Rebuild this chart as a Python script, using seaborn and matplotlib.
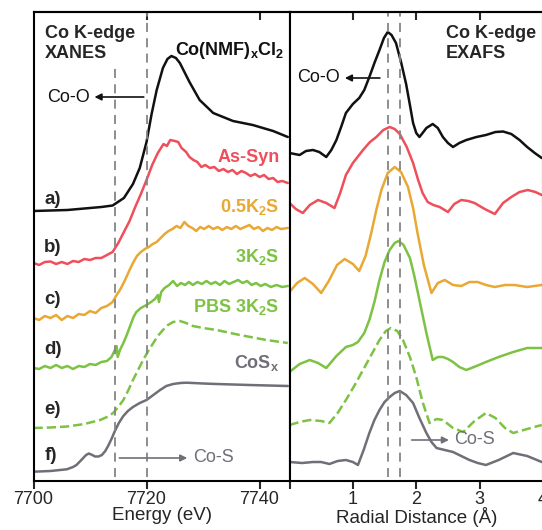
import numpy as np
import pandas as pd
import matplotlib
matplotlib.use("Agg")
import matplotlib.pyplot as plt
import seaborn as sns

sns.set_style("ticks")
plt.rcParams['font.family'] = ['Liberation Sans', 'DejaVu Sans']
plt.rcParams['mathtext.fontset'] = 'custom'
plt.rcParams['mathtext.rm'] = 'Liberation Sans'
plt.rcParams['mathtext.bf'] = 'Liberation Sans:bold'

# ---------------- XANES data (energy in eV, offset normalized intensity) ----------------
xan_a_e = [7700, 7706, 7712, 7714, 7716, 7717.6, 7718.8, 7720, 7720.9, 7721.8, 7722.9, 7723.7,
           7724.4, 7725.2, 7725.9, 7727.6, 7729.4, 7731.8, 7735.3, 7738.8, 7742.4, 7745]
xan_a_y = [2.70, 2.71, 2.74, 2.755, 2.83, 2.97, 3.13, 3.39, 3.67, 3.91, 4.13, 4.22,
           4.25, 4.23, 4.18, 3.99, 3.81, 3.68, 3.60, 3.56, 3.50, 3.44]

xan_b_e = [7700, 7701, 7702, 7703, 7704, 7705, 7706, 7707, 7708, 7709, 7710, 7711, 7712, 7713,
           7714, 7715, 7716, 7717, 7718, 7719, 7720, 7721, 7722, 7723, 7723.6, 7724.2, 7725,
           7725.6, 7726.2, 7727, 7727.6, 7728.3, 7729, 7729.7, 7730.4, 7731.2, 7732, 7732.8,
           7733.6, 7734.4, 7735.2, 7736, 7736.8, 7737.6, 7738.4, 7739.2, 7740, 7740.8, 7741.6,
           7742.4, 7743.2, 7744, 7745]
xan_b_y = [2.18, 2.16, 2.19, 2.195, 2.17, 2.19, 2.17, 2.20, 2.19, 2.22, 2.21, 2.23, 2.23, 2.26,
           2.29, 2.38, 2.49, 2.60, 2.74, 2.87, 3.01, 3.16, 3.28, 3.37, 3.35, 3.41, 3.40,
           3.39, 3.33, 3.29, 3.24, 3.21, 3.19, 3.14, 3.16, 3.13, 3.14, 3.10,
           3.12, 3.09, 3.11, 3.07, 3.10, 3.08, 3.05, 3.07, 3.04, 3.06, 3.02,
           3.03, 2.99, 3.00, 2.98]

xan_c_e = [7700, 7701, 7702, 7703, 7704, 7705, 7706, 7707, 7708, 7709, 7710, 7711, 7712, 7713,
           7714, 7714.6, 7715.4, 7716.2, 7717, 7717.6, 7718.3, 7719, 7719.7, 7720.4, 7721.1,
           7721.8, 7722.5, 7723.2, 7723.9, 7724.6, 7725.3, 7726, 7726.7, 7727.4, 7728.1, 7728.8,
           7729.5, 7730.2, 7731, 7731.8, 7732.6, 7733.4, 7734.2, 7735, 7735.8, 7736.6, 7737.4,
           7738.2, 7739, 7739.8, 7740.6, 7741.4, 7742.2, 7743, 7743.8, 7745]
xan_c_y = [1.63, 1.61, 1.65, 1.63, 1.66, 1.61, 1.65, 1.63, 1.67, 1.66, 1.70, 1.68, 1.73, 1.75,
           1.79, 1.85, 1.92, 2.01, 2.11, 2.18, 2.25, 2.29, 2.32, 2.34, 2.37,
           2.39, 2.43, 2.47, 2.50, 2.52, 2.55, 2.53, 2.59, 2.55, 2.53, 2.50,
           2.54, 2.52, 2.55, 2.52, 2.54, 2.51, 2.54, 2.52, 2.55, 2.52, 2.54,
           2.56, 2.52, 2.54, 2.50, 2.53, 2.51, 2.54, 2.52, 2.53]

xan_d_e = [7700, 7701, 7702, 7703, 7704, 7705, 7706, 7707, 7708, 7709, 7710, 7711, 7712, 7713,
           7713.8, 7714.4, 7714.7, 7714.9, 7715.3, 7715.9, 7716.5, 7717.1, 7717.7, 7718.2, 7719,
           7720, 7720.8, 7721.5, 7722, 7722.2, 7722.6, 7723.2, 7724, 7724.7, 7725.4, 7726.1,
           7726.8, 7727.5, 7728.2, 7729, 7729.8, 7730.6, 7731.4, 7732.2, 7733, 7733.8, 7734.6,
           7735.4, 7736.2, 7737, 7737.8, 7738.6, 7739.4, 7740.2, 7741, 7742, 7743, 7744, 7745]
xan_d_y = [1.13, 1.12, 1.15, 1.13, 1.16, 1.13, 1.15, 1.12, 1.15, 1.14, 1.17, 1.16, 1.19, 1.20,
           1.24, 1.31, 1.35, 1.24, 1.31, 1.38, 1.46, 1.55, 1.64, 1.69, 1.73,
           1.76, 1.79, 1.82, 1.86, 1.79, 1.89, 1.93, 1.96, 2.00, 1.95, 1.98,
           1.96, 1.99, 1.96, 1.99, 1.97, 2.00, 1.97, 1.99, 1.96, 2.00, 1.97,
           1.99, 2.01, 1.98, 2.00, 1.96, 1.98, 1.95, 1.97, 1.94, 1.96, 1.94, 1.95]

xan_e_e = [7700, 7703, 7706, 7709, 7711.8, 7713, 7714.1, 7715, 7715.9, 7716.8, 7717.6, 7718.5,
           7719.4, 7720.3, 7721.2, 7722, 7722.9, 7723.8, 7724.7, 7725.9, 7727, 7728.2, 7730,
           7732.4, 7736.5, 7741.2, 7745]
xan_e_y = [0.53, 0.535, 0.545, 0.57, 0.61, 0.64, 0.68, 0.74, 0.81, 0.91, 1.01, 1.11,
           1.21, 1.30, 1.38, 1.45, 1.51, 1.56, 1.59, 1.60, 1.58, 1.55, 1.53,
           1.51, 1.46, 1.41, 1.38]

xan_f_e = [7700, 7703, 7705.9, 7707, 7707.6, 7708.3, 7708.8, 7709.3, 7709.8, 7710.4, 7710.9,
           7711.5, 7712.1, 7712.7, 7713.2, 7713.8, 7714.4, 7715.1, 7715.9, 7716.7, 7717.6,
           7718.8, 7720, 7721.2, 7722.4, 7723.5, 7724.7, 7726, 7727.1, 7730, 7732.4, 7738.2, 7745]
xan_f_y = [0.093, 0.10, 0.117, 0.14, 0.16, 0.20, 0.23, 0.26, 0.275, 0.26, 0.245,
           0.245, 0.26, 0.30, 0.35, 0.42, 0.50, 0.58, 0.65, 0.70, 0.74,
           0.78, 0.81, 0.86, 0.91, 0.95, 0.97, 0.98, 0.983, 0.975, 0.97, 0.96, 0.95]

# ---------------- EXAFS data (radial distance in Angstrom, offset |FT|) ----------------
ex_a_r = [0.00, 0.08, 0.16, 0.26, 0.37, 0.47, 0.58, 0.66, 0.74, 0.82, 0.89, 1.00, 1.10, 1.18,
          1.26, 1.34, 1.42, 1.49, 1.55, 1.61, 1.68, 1.76, 1.84, 1.90, 1.95, 2.00, 2.05, 2.10,
          2.16, 2.26, 2.34, 2.42, 2.50, 2.58, 2.68, 2.79, 2.95, 3.10, 3.25, 3.37, 3.50, 3.63,
          3.75, 3.87, 3.98]
ex_a_y = [3.28, 3.27, 3.26, 3.30, 3.31, 3.29, 3.24, 3.31, 3.41, 3.55, 3.68, 3.77, 3.83, 3.91,
          4.04, 4.18, 4.31, 4.43, 4.49, 4.46, 4.38, 4.19, 3.97, 3.76, 3.58, 3.48, 3.44, 3.48,
          3.53, 3.57, 3.53, 3.44, 3.38, 3.34, 3.38, 3.41, 3.44, 3.46, 3.49, 3.495, 3.47, 3.41,
          3.34, 3.28, 3.23]

ex_b_r = [0.00, 0.10, 0.21, 0.32, 0.45, 0.58, 0.71, 0.80, 0.89, 1.00, 1.16, 1.27, 1.37, 1.48,
          1.58, 1.66, 1.74, 1.85, 1.95, 2.03, 2.10, 2.18, 2.27, 2.37, 2.50, 2.60, 2.71, 2.82,
          2.92, 3.08, 3.24, 3.37, 3.50, 3.63, 3.76, 3.88, 3.98]
ex_b_y = [2.78, 2.72, 2.68, 2.76, 2.81, 2.78, 2.73, 2.88, 3.06, 3.18, 3.31, 3.39, 3.44, 3.51,
          3.54, 3.52, 3.47, 3.34, 3.18, 3.01, 2.88, 2.79, 2.76, 2.74, 2.69, 2.77, 2.81, 2.80,
          2.78, 2.72, 2.67, 2.78, 2.84, 2.89, 2.91, 2.89, 2.86]

ex_c_r = [0.00, 0.12, 0.24, 0.37, 0.50, 0.62, 0.75, 0.87, 1.00, 1.10, 1.20, 1.29, 1.37, 1.45,
          1.55, 1.66, 1.76, 1.87, 1.95, 2.02, 2.12, 2.24, 2.34, 2.45, 2.58, 2.71, 2.84, 2.97,
          3.10, 3.24, 3.40, 3.55, 3.75, 3.98]
ex_c_y = [1.89, 1.98, 2.03, 1.97, 1.88, 2.00, 2.16, 2.22, 2.17, 2.10, 2.25, 2.48, 2.71, 2.91,
          3.08, 3.14, 3.09, 2.94, 2.73, 2.48, 2.16, 1.88, 1.98, 2.01, 1.96, 1.95, 1.99, 1.99,
          1.96, 1.94, 1.96, 1.96, 1.94, 1.96]

ex_d_r = [0.00, 0.16, 0.32, 0.45, 0.58, 0.74, 0.89, 1.00, 1.08, 1.18, 1.26, 1.34, 1.42, 1.50,
          1.58, 1.66, 1.72, 1.80, 1.90, 1.97, 2.05, 2.16, 2.26, 2.34, 2.42, 2.50, 2.58, 2.68,
          2.79, 2.95, 3.10, 3.30, 3.53, 3.75, 3.98]
ex_d_y = [1.09, 1.17, 1.21, 1.18, 1.13, 1.25, 1.34, 1.36, 1.39, 1.48, 1.61, 1.79, 2.01, 2.19,
          2.31, 2.38, 2.40, 2.36, 2.23, 2.05, 1.81, 1.48, 1.21, 1.24, 1.24, 1.22, 1.19, 1.14,
          1.11, 1.15, 1.19, 1.24, 1.29, 1.33, 1.33]

ex_e_r = [0.00, 0.16, 0.32, 0.50, 0.63, 0.76, 0.89, 1.03, 1.16, 1.29, 1.42, 1.52, 1.60, 1.70,
          1.79, 1.90, 2.00, 2.10, 2.21, 2.32, 2.42, 2.58, 2.74, 2.92, 3.10, 3.25, 3.40, 3.53,
          3.75, 3.98]
ex_e_y = [0.56, 0.59, 0.61, 0.60, 0.58, 0.68, 0.81, 0.96, 1.11, 1.26, 1.41, 1.50, 1.53, 1.50,
          1.41, 1.24, 1.04, 0.79, 0.58, 0.62, 0.61, 0.53, 0.49, 0.60, 0.68, 0.63, 0.53, 0.48,
          0.52, 0.56]

ex_f_r = [0.00, 0.20, 0.37, 0.50, 0.63, 0.76, 0.89, 1.00, 1.08, 1.17, 1.26, 1.34, 1.42, 1.50,
          1.58, 1.66, 1.74, 1.84, 1.95, 2.05, 2.16, 2.24, 2.32, 2.45, 2.58, 2.71, 2.84, 2.97,
          3.10, 3.30, 3.53, 3.75, 3.98]
ex_f_y = [0.19, 0.18, 0.19, 0.19, 0.17, 0.20, 0.21, 0.19, 0.16, 0.31, 0.48, 0.61, 0.71, 0.79,
          0.84, 0.88, 0.90, 0.86, 0.78, 0.63, 0.48, 0.39, 0.33, 0.31, 0.29, 0.25, 0.21, 0.18,
          0.16, 0.21, 0.28, 0.25, 0.19]

# ---------------- labels ----------------
sample_labels = [r"Co(NMF)$_\mathbf{x}$Cl$_\mathbf{2}$", "As-Syn", r"0.5K$_\mathbf{2}$S",
                 r"3K$_\mathbf{2}$S", r"PBS 3K$_\mathbf{2}$S", r"CoS$_\mathbf{x}$"]
letters = ["a)", "b)", "c)", "d)", "e)", "f)"]
xanes_ticks = [7700, 7720, 7740]
exafs_ticks = [1, 2, 3, 4]
xanes_marks = [7714.5, 7720]
exafs_marks = [1.55, 1.75]

BLACK = "#111111"
RED = "#ef4f5a"
ORANGE = "#e9a833"
GREEN = "#7dc243"
GRAY = "#6f6f78"
VGRAY = "#858585"

colors = [BLACK, RED, ORANGE, GREEN, GREEN, GRAY]
styles = ["-", "-", "-", "-", "--", "-"]

xanes = [(xan_a_e, xan_a_y), (xan_b_e, xan_b_y), (xan_c_e, xan_c_y),
         (xan_d_e, xan_d_y), (xan_e_e, xan_e_y), (xan_f_e, xan_f_y)]
exafs = [(ex_a_r, ex_a_y), (ex_b_r, ex_b_y), (ex_c_r, ex_c_y),
         (ex_d_r, ex_d_y), (ex_e_r, ex_e_y), (ex_f_r, ex_f_y)]

W, H = 542, 530
fig = plt.figure(figsize=(W / 100, H / 100), dpi=100)
ax1 = fig.add_axes([33.5 / W, 1 - 481 / H, (289.5 - 33.5) / W, 469 / H])
ax2 = fig.add_axes([289.5 / W, 1 - 481 / H, (543 - 289.5) / W, 469 / H])

LW = 1.8
for (x, y), c, ls in zip(xanes, colors, styles):
    df = pd.DataFrame({"x": x, "y": y})
    sns.lineplot(data=df, x="x", y="y", ax=ax1, color=c, lw=LW, linestyle=ls,
                 sort=False, estimator=None)
for (x, y), c, ls in zip(exafs, colors, styles):
    df = pd.DataFrame({"x": x, "y": y})
    sns.lineplot(data=df, x="x", y="y", ax=ax2, color=c, lw=LW, linestyle=ls,
                 sort=False, estimator=None)

YMAX = 4.69
for ax in (ax1, ax2):
    ax.set_ylim(0, YMAX)
    ax.set_yticks([])
    ax.set_ylabel("")
    for s in ax.spines.values():
        s.set_visible(True)
        s.set_linewidth(1.5)
        s.set_color("black")
    ax.tick_params(axis="x", which="both", direction="out", length=6, width=1.5,
                   labelsize=13, pad=1.5, top=False)

ax1.set_xlim(7700, 7745.3)
ax2.set_xlim(0, 4.0)
ax1.set_xticks(xanes_ticks)
ax2.set_xticks([0] + exafs_ticks)
ax2.set_xticklabels([""] + [str(t) for t in exafs_ticks])
ax1.set_xlabel("Energy (eV)", fontsize=13.5, labelpad=-1)
ax2.set_xlabel("Radial Distance (Å)", fontsize=13.5, labelpad=-1)

# inward top ticks
for ax, tk in ((ax1, [7720, 7740]), (ax2, [1, 2, 3])):
    sec = ax.secondary_xaxis("top")
    sec.set_xticks(tk)
    sec.tick_params(direction="in", length=6, width=1.5, labeltop=False)
    sec.spines["top"].set_linewidth(1.5)

# dashed reference lines
dash = (0, (5, 3.5))
ax1.vlines(xanes_marks[0], 0.04, 4.18, color=VGRAY, lw=1.3, linestyle=dash)
ax1.vlines(xanes_marks[1], 0.04, 4.68, color=VGRAY, lw=1.3, linestyle=dash)
for m in exafs_marks:
    ax2.vlines(m, 0.04, 4.68, color=VGRAY, lw=1.3, linestyle=dash)

FS = 13
# texts - XANES panel
ax1.text(7702.0, 4.56, "Co K-edge\nXANES", fontsize=FS, fontweight="bold",
         ha="left", va="top", linespacing=1.2)
lab_y = [4.31, 3.24, 2.74, 2.24, 1.74, 1.18]
for lbl, c, yy in zip(sample_labels, colors, lab_y):
    ax1.text(7744.3 if c == BLACK else 7743.5, yy, lbl, color=c, fontsize=FS,
             fontweight="bold", ha="right", va="center")
let_y = [2.81, 2.34, 1.82, 1.32, 0.71, 0.26]
for lt, yy in zip(letters, let_y):
    ax1.text(7701.9, yy, lt, fontsize=13.5, fontweight="bold", ha="left", va="center")

ax1.annotate("", xy=(7710.3, 3.84), xytext=(7720, 3.84),
             arrowprops=dict(arrowstyle="-|>", color=BLACK, lw=1.2, mutation_scale=10))
ax1.text(7709.9, 3.84, "Co-O", fontsize=FS, ha="right", va="center", color=BLACK)
ax1.annotate("", xy=(7727.7, 0.23), xytext=(7714.7, 0.23),
             arrowprops=dict(arrowstyle="-|>", color=GRAY, lw=1.2, mutation_scale=10))
ax1.text(7728.2, 0.23, "Co-S", fontsize=FS, ha="left", va="center", color=GRAY)

# texts - EXAFS panel
ax2.text(2.47, 4.56, "Co K-edge\nEXAFS", fontsize=FS, fontweight="bold",
         ha="left", va="top", linespacing=1.2)
ax2.annotate("", xy=(0.83, 4.03), xytext=(1.47, 4.03),
             arrowprops=dict(arrowstyle="-|>", color=BLACK, lw=1.2, mutation_scale=10))
ax2.text(0.80, 4.03, "Co-O", fontsize=FS, ha="right", va="center", color=BLACK)
ax2.annotate("", xy=(2.56, 0.41), xytext=(1.885, 0.41),
             arrowprops=dict(arrowstyle="-|>", color=GRAY, lw=1.2, mutation_scale=10))
ax2.text(2.60, 0.41, "Co-S", fontsize=FS, ha="left", va="center", color=GRAY)

fig.savefig("out.png", dpi=100)
